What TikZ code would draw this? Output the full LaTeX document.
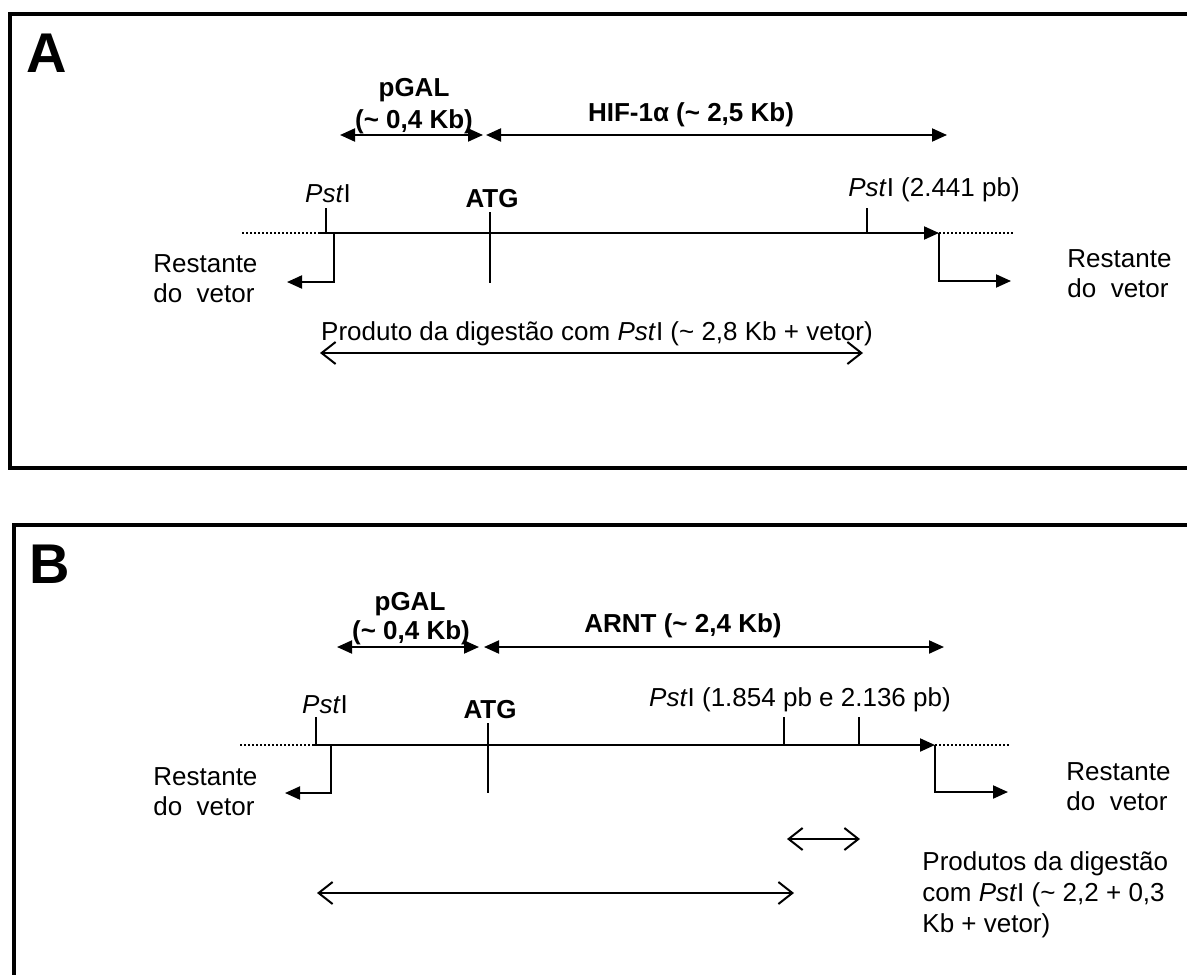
\documentclass[tikz,border=0pt]{standalone}
\usepackage{fontspec}
\setmainfont{Liberation Sans}
\usetikzlibrary{arrows.meta}

\begin{document}
\begin{tikzpicture}[x=0.5pt, y=0.5pt,
	txt/.style={inner sep=0pt, font=\fontsize{13}{15}\selectfont},
	bold/.style={inner sep=0pt, font=\fontsize{13}{15}\selectfont\bfseries},
	letter/.style={inner sep=0pt, font=\fontsize{28}{30}\selectfont\bfseries}]
	\useasboundingbox (0,0) rectangle (1187,-974);
	% frames of the two panels
	\draw[line width=2pt] (10,-14) rectangle (1200,-468);
	\draw[line width=2pt] (14,-525) rectangle (1200,-990);

	% panel A: labels
	\begin{scope}[every node/.style={txt}]
		\node[letter, anchor=base west] (labA) at (26,-73) {A};
		\node[bold, anchor=base] (pgalA) at (414,-97) {pGAL};
		\node[bold, anchor=base] (pgalszA) at (414,-128) {(\textasciitilde{} 0,4 Kb)};
		\node[bold, anchor=base] (hif) at (691,-121) {HIF-1α (\textasciitilde{} 2,5 Kb)};
		\node[anchor=base] (pstAl) at (328,-202) {\textit{Pst}I};
		\node[bold, anchor=base] (atgA) at (492,-207) {ATG};
		\node[anchor=base] (pstAr) at (934,-196) {\textit{Pst}I (2.441 pb)};
		\node[align=left, anchor=west] (restAl) at (153,-279) {Restante\\do\ \ vetor};
		\node[align=left, anchor=west] (restAr) at (1067,-274) {Restante\\do\ \ vetor};
		\node[anchor=base] (prodA) at (597,-340) {Produto da digestão com \textit{Pst}I (\textasciitilde{} 2,8 Kb + vetor)};
	\end{scope}
	% panel A: points
	\coordinate (pgalAl) at (340,-135);
	\coordinate (pgalAr) at (483,-135);
	\coordinate (hifl) at (486,-135);
	\coordinate (hifr) at (947,-135);
	\coordinate (dotAl) at (242,-233);
	\coordinate (lineAl) at (318,-233);
	\coordinate (lineAr) at (939,-233);
	\coordinate (dotAr) at (1013,-233);
	\coordinate (tpstAl) at (326,-208);
	\coordinate (bpstAl) at (326,-233);
	\coordinate (cutAl) at (334,-233);
	\coordinate (vecAl) at (287,-282);
	\coordinate (vecAr) at (1011,-281);
	\coordinate (tatgA) at (490,-212);
	\coordinate (batgA) at (490,-283);
	\coordinate (tpstAr) at (867,-208);
	\coordinate (bpstAr) at (867,-233);
	\coordinate (prodAl) at (320,-353);
	\coordinate (prodAr) at (863,-353);

	% panel B: labels
	\begin{scope}[every node/.style={txt}]
		\node[letter, anchor=base west] (labB) at (29,-583) {B};
		\node[bold, anchor=base] (pgalB) at (410,-610) {pGAL};
		\node[bold, anchor=base] (pgalszB) at (411,-639) {(\textasciitilde{} 0,4 Kb)};
		\node[bold, anchor=base] (arnt) at (683,-632) {ARNT (\textasciitilde{} 2,4 Kb)};
		\node[anchor=base] (pstBl) at (325,-713) {\textit{Pst}I};
		\node[bold, anchor=base] (atgB) at (490,-718) {ATG};
		\node[anchor=base] (pstBr) at (800,-706) {\textit{Pst}I (1.854 pb e 2.136 pb)};
		\node[align=left, anchor=west] (restBl) at (153,-792) {Restante\\do\ \ vetor};
		\node[align=left, anchor=west] (restBr) at (1066,-787) {Restante\\do\ \ vetor};
		\node[align=left, anchor=west, font=\fontsize{13}{15.5}\selectfont] (prodB) at (922,-895)
			{Produtos da digestão\\com \textit{Pst}I (\textasciitilde{} 2,2 + 0,3\\Kb + vetor)};
	\end{scope}
	% panel B: points
	\coordinate (pgalBl) at (337,-647);
	\coordinate (pgalBr) at (479,-647);
	\coordinate (arntl) at (484,-647);
	\coordinate (arntr) at (944,-647);
	\coordinate (dotBl) at (240,-745);
	\coordinate (lineBl) at (312,-745);
	\coordinate (lineBr) at (935,-745);
	\coordinate (dotBr) at (1011,-745);
	\coordinate (tpstBl) at (316,-717);
	\coordinate (bpstBl) at (316,-745);
	\coordinate (cutBl) at (331,-745);
	\coordinate (vecBl) at (285,-793);
	\coordinate (vecBr) at (1008,-792);
	\coordinate (tatgB) at (488,-723);
	\coordinate (batgB) at (488,-793);
	\coordinate (tpstB1) at (784,-717);
	\coordinate (bpstB1) at (784,-745);
	\coordinate (tpstB2) at (859,-717);
	\coordinate (bpstB2) at (859,-745);
	\coordinate (fragl) at (787,-839);
	\coordinate (fragr) at (860,-839);
	\coordinate (prodBl) at (317,-893);
	\coordinate (prodBr) at (794,-893);

	% solid arrows
	\begin{scope}[>={Triangle[length=7.5pt,width=6.5pt]},
			every edge/.style={draw=black, line width=1pt}]
		\path [<->] (pgalAl) edge (pgalAr);
		\path [<->] (hifl) edge (hifr);
		\path [->] (lineAl) edge (lineAr);
		\draw [->, line width=1pt] (cutAl) |- (vecAl);
		\draw [->, line width=1pt] (lineAr) |- (vecAr);
		\path [<->] (pgalBl) edge (pgalBr);
		\path [<->] (arntl) edge (arntr);
		\path [->] (lineBl) edge (lineBr);
		\draw [->, line width=1pt] (cutBl) |- (vecBl);
		\draw [->, line width=1pt] (lineBr) |- (vecBr);
	\end{scope}
	% vector ends and cut sites
	\begin{scope}[every edge/.style={draw=black, line width=0.8pt}]
		\path [dash pattern=on 1pt off 1pt] (dotAl) edge (lineAl);
		\path [dash pattern=on 1pt off 1pt] (lineAr) edge (dotAr);
		\path (tpstAl) edge (bpstAl);
		\path (tatgA) edge (batgA);
		\path (tpstAr) edge (bpstAr);
		\path [dash pattern=on 1pt off 1pt] (dotBl) edge (lineBl);
		\path [dash pattern=on 1pt off 1pt] (lineBr) edge (dotBr);
		\path (tpstBl) edge (bpstBl);
		\path (tatgB) edge (batgB);
		\path (tpstB1) edge (bpstB1);
		\path (tpstB2) edge (bpstB2);
	\end{scope}
	% digestion products
	\begin{scope}[>={Straight Barb[length=7pt,width=11pt]},
			every edge/.style={draw=black, line width=1pt}]
		\path [<->] (prodAl) edge (prodAr);
		\path [<->] (fragl) edge (fragr);
		\path [<->] (prodBl) edge (prodBr);
	\end{scope}
\end{tikzpicture}
\end{document}
